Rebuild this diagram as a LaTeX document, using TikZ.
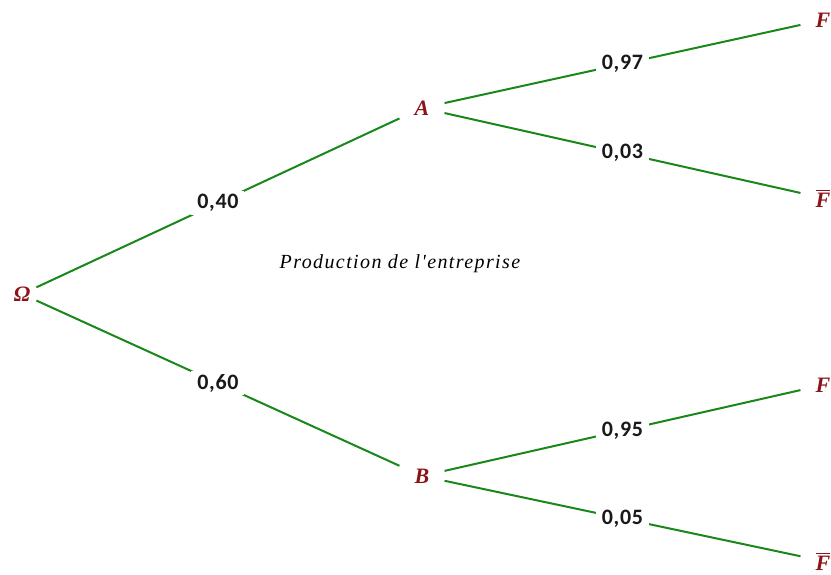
\documentclass[tikz,border=0pt]{standalone}
\usepackage{amsmath}
\usepackage{fontspec}
\setmainfont{Liberation Serif}
\newfontfamily\probfont[LetterSpace=3]{Carlito}
\newfontfamily\titlefont[LetterSpace=7]{Liberation Serif}
\usepackage{tikz}

\definecolor{branchgreen}{RGB}{25,135,25}
\definecolor{eventred}{RGB}{140,20,25}

\begin{document}
\begin{tikzpicture}[
        x=1pt, y=-1pt,
        event/.style={text=eventred, font=\fontsize{22}{26}\selectfont\bfseries\itshape,
            inner xsep=15pt, inner ysep=3pt},
        branch/.style={draw=branchgreen, line width=2pt},
        prob/.style={font=\probfont\fontsize{22}{26}\selectfont\bfseries, text=black!90,
            fill=white, inner xsep=6pt, inner ysep=3pt}
    ]
    \useasboundingbox (0,0) rectangle (831,575);

    % --- Define Vertices ---
    \node[event, inner xsep=6pt] (om) at (22,294) {Ω};
    \node[event] (a) at (422,108) {A};
    \node[event] (b) at (422,476) {B};

    \node[event] (f1) at (823,20) {F};
    \node[event] (nf1) at (823,198) {$\overline{\text{F}}$};
    \node[event] (f2) at (823,385) {F};
    \node[event] (nf2) at (823,561) {$\overline{\text{F}}$};

    \node[font=\titlefont\fontsize{20}{24}\selectfont\itshape] (title) at (400,264) {Production de l'entreprise};

    % --- Draw Edges and Labels ---
    \draw[branch] (om) -- node[prob] {0,40} (a);
    \draw[branch] (om) -- node[prob] {0,60} (b);

    \draw[branch] (a) -- node[prob] {0,97} (f1);
    \draw[branch] (a) -- node[prob] {0,03} (nf1);

    \draw[branch] (b) -- node[prob] {0,95} (f2);
    \draw[branch] (b) -- node[prob] {0,05} (nf2);

\end{tikzpicture}
\end{document}
